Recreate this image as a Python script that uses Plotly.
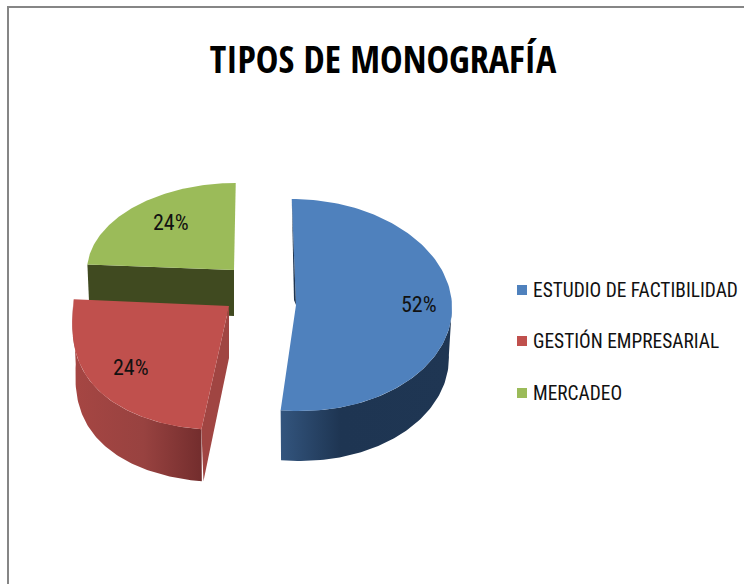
import numpy as np
import plotly.graph_objects as go

# data
categories = ["ESTUDIO DE FACTIBILIDAD", "GESTIÓN EMPRESARIAL", "MERCADEO"]
values = [52, 24, 24]
title_text = "TIPOS DE MONOGRAFÍA"

# styles
top_colors = ["#4F81BD", "#C0504D", "#9BBB59"]
FONT = "'Roboto Condensed', Carlito, sans-serif"
TITLE_FONT = "'Open Sans Condensed', Carlito, sans-serif"

# geometry of the exploded 3d pie, in pixels: one entry per slice
centre_x = [296, 229, 234]
centre_y = [305, 306, 270]
radius_x = [156, 156, 147]
radius_back = [106, 106, 87]
radius_front = [106, 124, 87]
front_power = [1.0, 0.75, 1.0]  # under 1 makes the near edge fuller, the original has perspective
depth = [50, 52, 46]
shear = [0.04, -0.065, -0.02]
label_x = [419, 131, 171]
label_y = [304, 367, 222]


def rim(i, deg, drop=0.0, scale=1.0):
    # point on the slice's ellipse, angle clockwise from 12 o'clock
    t = np.radians(deg)
    c = np.cos(t)
    dy = np.where(c > 0, radius_back[i] * c, -radius_front[i] * np.abs(c) ** front_power[i])
    x = centre_x[i] + scale * radius_x[i] * np.sin(t)
    y = centre_y[i] - dy
    return x + shear[i] * (y - centre_y[i]), y + drop


def polygon(x, y, color=None, gradient=None):
    args = dict(
        x=list(x), y=list(y), mode="lines", fill="toself",
        line=dict(width=0), hoverinfo="skip", showlegend=False,
    )
    if gradient:
        args["fillgradient"] = dict(type="horizontal", colorscale=gradient)
    else:
        args["fillcolor"] = color
    return go.Scatter(**args)


def side(i, start, end, gradient):
    a = np.linspace(start, end, 80)
    x1, y1 = rim(i, a)
    x2, y2 = rim(i, a[::-1], drop=depth[i], scale=0.98)
    return polygon(np.r_[x1, x2], np.r_[y1, y2], gradient=gradient)


def top(i, start, end):
    a = np.linspace(start, end, 120)
    x, y = rim(i, a)
    return polygon(np.r_[centre_x[i], x], np.r_[centre_y[i], y], color=top_colors[i])


def cut(i, deg, color):
    # flat face left by pulling the slice out
    x, y = rim(i, deg)
    xs = [centre_x[i], float(x), float(x) + 2, centre_x[i]]
    ys = [centre_y[i], float(y), float(y) + depth[i], centre_y[i] + depth[i]]
    return polygon(xs, ys, color=color)


bounds = np.cumsum([0] + values) / sum(values) * 360
fig = go.Figure()

# green goes first, the red slice hides part of its face
fig.add_trace(cut(2, bounds[2], "#404A20"))
fig.add_trace(top(2, bounds[2], bounds[3]))

# blue
fig.add_trace(side(0, 90, bounds[1], [[0, "#33557E"], [0.35, "#1E3552"], [1, "#1F3653"]]))
fig.add_trace(top(0, bounds[0], bounds[1]))
x0, y0 = rim(0, bounds[0])
fig.add_trace(polygon([float(x0), centre_x[0], centre_x[0] - 2], [float(y0), centre_y[0], centre_y[0] - 5], color="#1E3552"))

# red
fig.add_trace(side(1, bounds[1], 270, [[0, "#A64643"], [0.55, "#984240"], [1, "#732D2D"]]))
fig.add_trace(cut(1, bounds[1], "#A04542"))
fig.add_trace(top(1, bounds[1], bounds[2]))

# percent labels
for x, y, v in zip(label_x, label_y, values):
    fig.add_annotation(
        x=x, y=y, text=f"{v}%", showarrow=False,
        font=dict(family=FONT, size=22, color="#111111"),
    )

# legend
legend_y = [290, 341, 393]
fig.add_trace(go.Scatter(
    x=[522, 522, 522], y=legend_y, mode="markers", hoverinfo="skip", showlegend=False,
    marker=dict(symbol="square", size=10, color=top_colors),
))
for name, y in zip(categories, legend_y):
    fig.add_annotation(
        x=531, y=y, text=name, showarrow=False, xanchor="left",
        font=dict(family=FONT, size=19.4, color="#111111"),
    )

fig.update_layout(
    width=744,
    height=584,
    margin=dict(l=0, r=0, t=0, b=0),
    paper_bgcolor="white",
    plot_bgcolor="white",
    showlegend=False,
    title=dict(
        text=f"<b>{title_text}</b>", x=383 / 744, xanchor="center", y=1 - 60 / 584, yanchor="middle",
        font=dict(family=TITLE_FONT, size=38, color="black"),
    ),
    xaxis=dict(range=[0, 744], visible=False),
    yaxis=dict(range=[584, 0], visible=False),
    shapes=[
        dict(type="path", path="M 8 584 L 8 7 L 744 7", line=dict(color="#868686", width=2)),
    ],
)

# the browser's default body margin would shift the page by 8px
fig.write_html("out.html", config={"displayModeBar": False}, post_script="document.body.style.margin='0'")
